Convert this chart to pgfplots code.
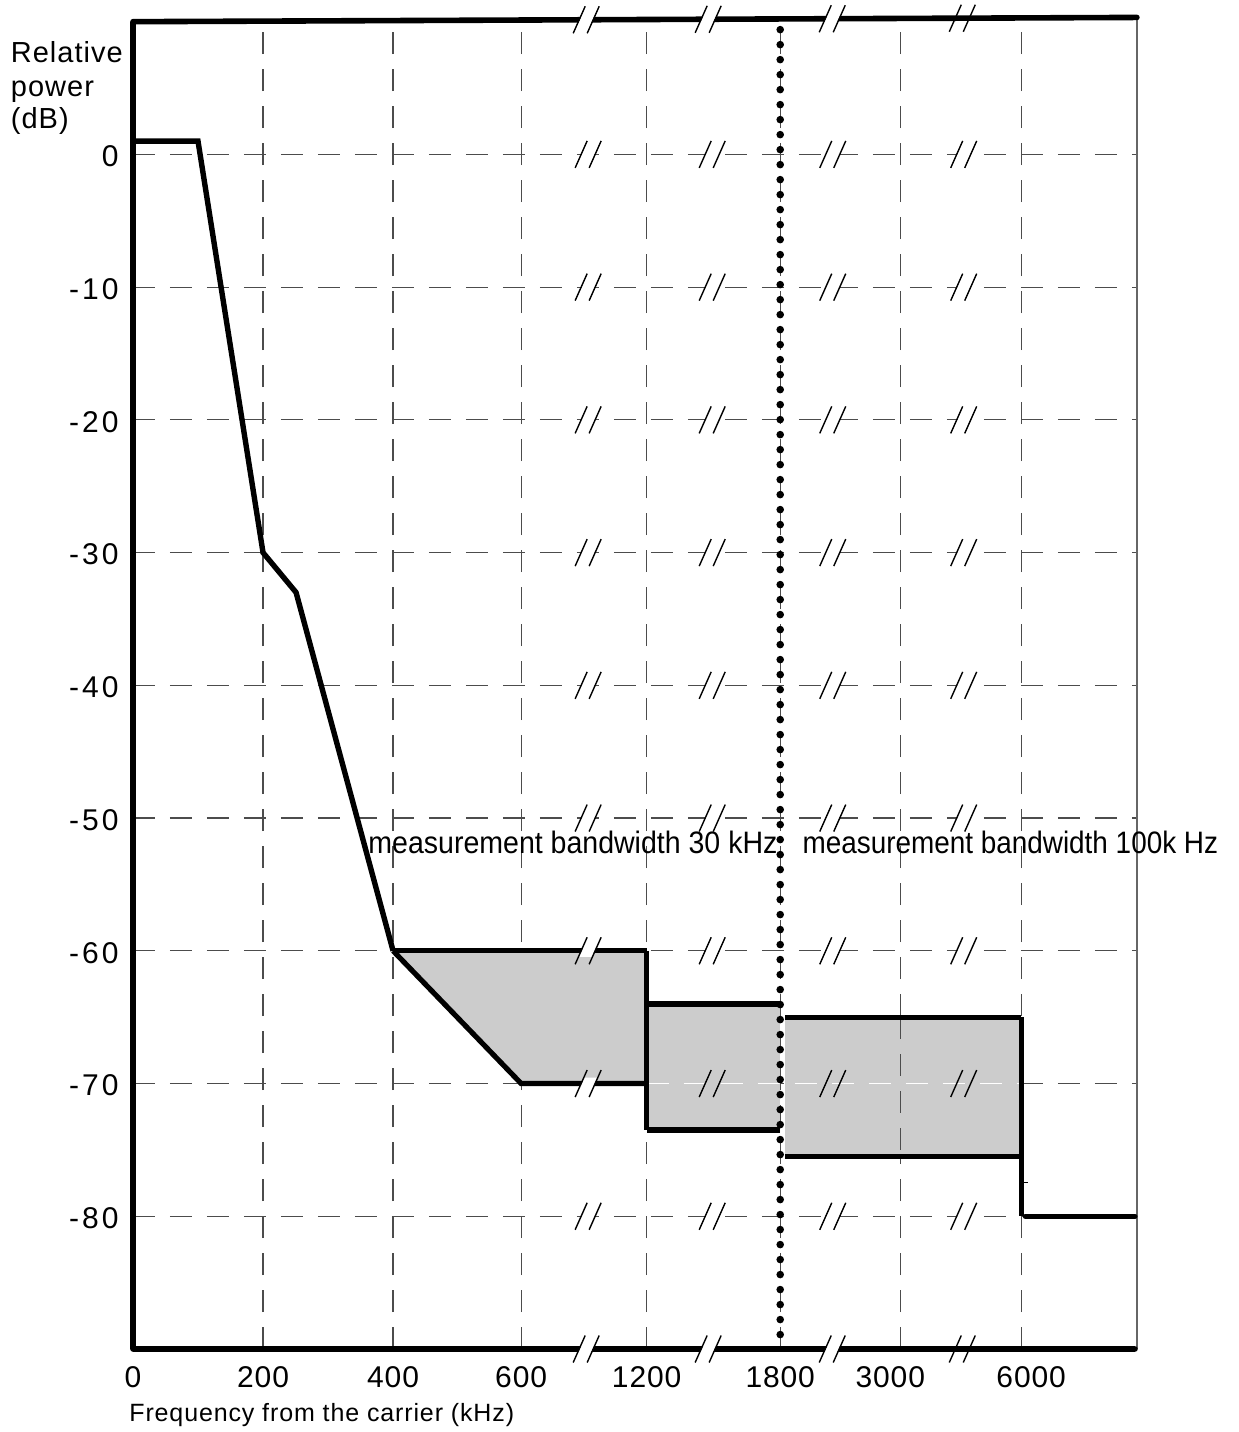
\documentclass[border=0pt]{standalone}
\usepackage{fontspec}
\setmainfont{Liberation Sans}
\newfontfamily\spaced[LetterSpace=3.5]{Liberation Sans}
\newfontfamily\spacedx[LetterSpace=3.5]{Liberation Sans}
\newfontfamily\ytfont[LetterSpace=10]{Liberation Sans}
\newfontfamily\xtfont[LetterSpace=3]{Liberation Sans}
\usepackage{pgfplots}
\pgfplotsset{compat=1.18}

% axis-break mark with white gap
\pgfdeclareplotmark{brk}{%
  \pgfpathmoveto{\pgfqpoint{-4.5pt}{-3pt}}%
  \pgfpathlineto{\pgfqpoint{1.85pt}{-3pt}}%
  \pgfpathlineto{\pgfqpoint{4.5pt}{3pt}}%
  \pgfpathlineto{\pgfqpoint{-1.85pt}{3pt}}%
  \pgfpathclose
  \pgfsetfillcolor{white}%
  \pgfusepath{fill}%
  \pgfsetlinewidth{0.7pt}%
  \pgfsetstrokecolor{black}%
  \pgfpathmoveto{\pgfqpoint{-6.5pt}{-6.75pt}}%
  \pgfpathlineto{\pgfqpoint{-0.5pt}{6.75pt}}%
  \pgfpathmoveto{\pgfqpoint{0.5pt}{-6.75pt}}%
  \pgfpathlineto{\pgfqpoint{6.5pt}{6.75pt}}%
  \pgfusepath{stroke}%
}
% axis-break mark without gap
\pgfdeclareplotmark{brkb}{%
  \pgfsetlinewidth{0.7pt}%
  \pgfsetstrokecolor{black}%
  \pgfpathmoveto{\pgfqpoint{-6.5pt}{-6.75pt}}%
  \pgfpathlineto{\pgfqpoint{-0.5pt}{6.75pt}}%
  \pgfpathmoveto{\pgfqpoint{0.5pt}{-6.75pt}}%
  \pgfpathlineto{\pgfqpoint{6.5pt}{6.75pt}}%
  \pgfusepath{stroke}%
}

\begin{document}
\begin{tikzpicture}
\begin{axis}[
  scale only axis, width=502pt, height=663.7pt,
  xmin=0, xmax=7.72, ymin=-90, ymax=10,
  clip=false,
  axis line style={draw=none},
  major tick length=0pt,
  xtick={0,1,2,2.985,3.95,4.977,5.9,6.83},
  xticklabels={0,200,400,600,1200,1800,\makebox[0pt]{\kern-10pt 3000},\makebox[0pt]{\kern10pt 6000}},
  xticklabel style={font={\xtfont\fontsize{15}{18}\selectfont}, inner sep=0pt, anchor=north, yshift=-8.5pt},
  ytick={-80,-70,-60,-50,-40,-30,-20,-10,0},
  yticklabels={-80,-70,-60,-50,-40,-30,-20,-10,0},
  yticklabel style={font={\ytfont\fontsize{15}{18}\selectfont}, inner sep=0pt, anchor=east, xshift=-7pt, yshift=-1pt},
  grid=major,
  major grid style={black!70, line width=0.6pt, dash pattern=on 11pt off 7.5pt},
]
% right thin border
\addplot[black!60, line width=0.6pt] coordinates {(7.72,-90) (7.72,10.32)};

% break marks on the grid lines
\addplot[only marks, mark=brk] coordinates {
 (3.5,0) (4.454,0) (5.381,0) (6.388,0)
 (3.5,-10) (4.454,-10) (5.381,-10) (6.388,-10)
 (3.5,-20) (4.454,-20) (5.381,-20) (6.388,-20)
 (3.5,-30) (4.454,-30) (5.381,-30) (6.388,-30)
 (3.5,-40) (4.454,-40) (5.381,-40) (6.388,-40)
 (3.5,-50) (4.454,-50) (5.381,-50) (6.388,-50)
 (3.5,-60) (4.454,-60) (5.381,-60) (6.388,-60)
 (3.5,-70)
 (3.5,-80) (4.454,-80) (5.381,-80) (6.388,-80)
};

% shaded limit areas
\addplot[fill=black!20, draw=none] coordinates {(2,-60) (3.95,-60) (3.95,-70) (2.985,-70)};
\addplot[fill=black!20, draw=none] coordinates {(3.95,-64) (4.977,-64) (4.977,-73.5) (3.95,-73.5)};
\addplot[fill=black!20, draw=none] coordinates {(5.015,-65) (6.83,-65) (6.83,-75.5) (5.015,-75.5)};

% grid traces over the shading
\addplot[white, line width=0.6pt, dash pattern=on 11pt off 7.5pt] coordinates {(3.95,-70) (6.83,-70)};
\addplot[black!70, line width=0.6pt, dash pattern=on 11pt off 7.5pt] coordinates {(5.9,-65) (5.9,-75.5)};
\addplot[only marks, mark=brkb] coordinates {(4.454,-70) (5.381,-70) (6.388,-70)};

% spectrum mask curve
\addplot[line width=2.7pt, line join=miter] coordinates {(0,1) (0.5,1) (1,-30) (1.254,-33) (2,-60)};
\addplot[line width=2.6pt] coordinates {(2,-60) (3.95,-60)};
\addplot[line width=2.6pt, line join=miter] coordinates {(2,-60) (2.985,-70) (3.95,-70)};
\addplot[line width=2.6pt] coordinates {(3.95,-60) (3.95,-73.5)};
\addplot[line width=2.6pt] coordinates {(3.95,-64) (4.977,-64)};
\addplot[line width=2.6pt] coordinates {(3.95,-73.5) (4.977,-73.5)};
\addplot[line width=2.6pt] coordinates {(5.015,-65) (6.83,-65)};
\addplot[line width=2.6pt] coordinates {(5.015,-75.5) (6.83,-75.5)};
\addplot[line width=2.6pt] coordinates {(6.83,-65) (6.83,-80)};
\addplot[line width=2.6pt, line cap=round] coordinates {(6.862,-80) (7.705,-80)};
\addplot[line width=0.8pt] coordinates {(6.83,-77.45) (6.88,-77.45)};

% dotted separation line at 1800 kHz
\addplot[line width=3.8pt, line cap=round, dash pattern=on 0pt off 7.5pt] coordinates {(4.977,9.4) (4.977,-90)};

% frame (left, top, bottom)
\addplot[line width=2.8pt, line join=round, line cap=round] coordinates {(7.72,10.32) (0,10) (0,-90) (7.705,-90)};
\addplot[only marks, mark=brk] coordinates {(3.485,10.14) (4.423,10.18) (5.377,10.22) (3.485,-90) (4.423,-90) (5.377,-90)};
\addplot[only marks, mark=brkb] coordinates {(6.377,10.26) (6.377,-90)};

% texts
\node[anchor=base west, inner sep=0pt, font={\spaced\fontsize{14.5}{17}\selectfont}] at (axis cs:-0.942,6.89) {Relative};
\node[anchor=base west, inner sep=0pt, font={\spaced\fontsize{14.5}{17}\selectfont}] at (axis cs:-0.942,4.40) {power};
\node[anchor=base west, inner sep=0pt, font={\spaced\fontsize{14.5}{17}\selectfont}] at (axis cs:-0.942,1.92) {(dB)};
\node[anchor=base west, inner sep=0pt, font={\spacedx\fontsize{12.5}{15}\selectfont}] at (axis cs:-0.031,-95.45) {Frequency from the carrier (kHz)};
\node[anchor=base west, inner sep=0pt, xscale=0.92, font={\fontsize{15.5}{18}\selectfont}] at (axis cs:1.808,-52.7) {measurement bandwidth 30 kHz};
\node[anchor=base west, inner sep=0pt, xscale=0.9, font={\fontsize{15.5}{18}\selectfont}] at (axis cs:5.146,-52.7) {measurement bandwidth 100k Hz};
\end{axis}
\pgfresetboundingbox
\path[use as bounding box] ([xshift=-66.5pt,yshift=-41.5pt]current axis.south west) rectangle ([xshift=51pt,yshift=10.85pt]current axis.north east);
\end{tikzpicture}
\end{document}
